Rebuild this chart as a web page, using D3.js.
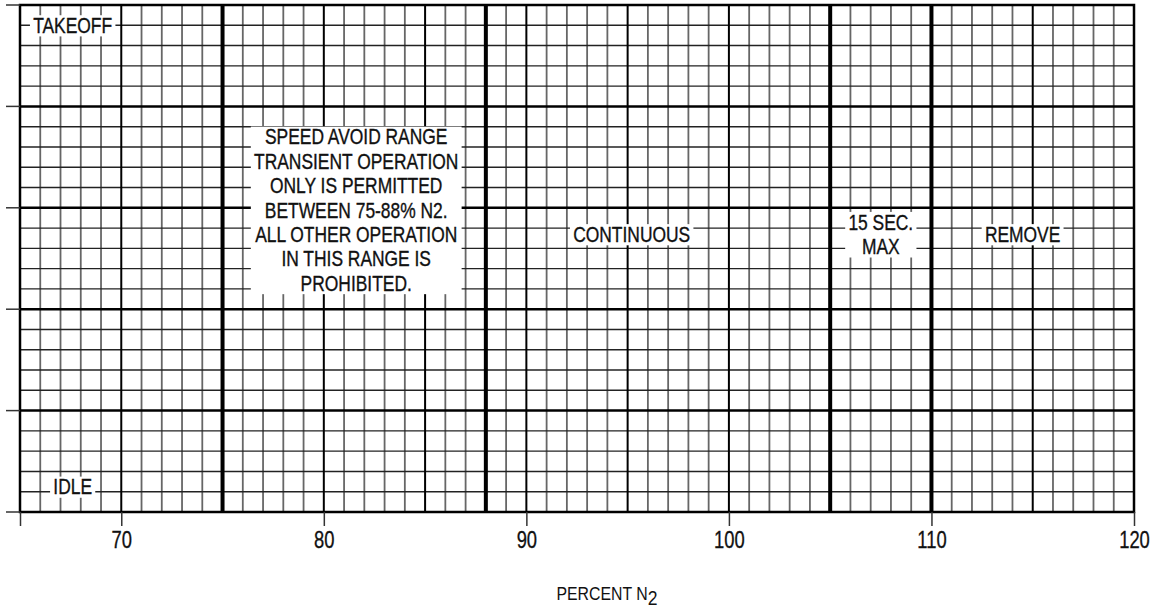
<!DOCTYPE html>
<html>
<head>
<meta charset="utf-8">
<script src="https://cdn.jsdelivr.net/npm/d3@7"></script>
<style>
  html, body { margin: 0; padding: 0; background: #fff; }
  svg text { font-family: "Liberation Sans", Arial, sans-serif; fill: #111; }
</style>
</head>
<body>
<svg id="chart" width="1154" height="616"></svg>
<script>
// ---- data ----
const xDomain = [65, 120];
const yDomain = [0, 5];
const xTickValues = [65, 70, 80, 90, 100, 110, 120];
const xTickLabels = ["", "70", "80", "90", "100", "110", "120"];
const yMajorTicks = [0, 1, 2, 3, 4, 5];
const xThickLines = [75, 88, 105, 110];          // limit boundaries
const xMediumLines = [70, 80, 85, 90, 95, 100, 115];
const xLabel = "PERCENT N";
const xLabelSub = "2";

const annotations = [
  { x: 67.6, y: 4.8, lines: ["TAKEOFF"] },
  { x: 67.6, y: 0.25, lines: ["IDLE"] },
  { x: 81.6, y: 2.98, lines: ["SPEED AVOID RANGE", "TRANSIENT OPERATION", "ONLY IS PERMITTED", "BETWEEN 75-88% N2.", "ALL OTHER OPERATION", "IN THIS RANGE IS", "PROHIBITED."] },
  { x: 95.2, y: 2.74, lines: ["CONTINUOUS"] },
  { x: 107.5, y: 2.74, lines: ["15 SEC.", "MAX"] },
  { x: 114.5, y: 2.74, lines: ["REMOVE"] }
];

// ---- layout ----
const svg = d3.select("#chart");
const mLeft = 20, mRight = 1134, mTop = 5, mBottom = 512;
const x = d3.scaleLinear().domain(xDomain).range([mLeft, mRight]);
const y = d3.scaleLinear().domain(yDomain).range([mBottom, mTop]);
const condense = 0.81;

const grid = svg.append("g");

// minor vertical lines (every 1 unit)
const minorX = d3.range(xDomain[0] + 1, xDomain[1], 1)
  .filter(v => !xThickLines.includes(v) && !xMediumLines.includes(v));
grid.selectAll(".vminor").data(minorX).join("line")
  .attr("x1", d => x(d)).attr("x2", d => x(d))
  .attr("y1", mTop).attr("y2", mBottom)
  .attr("stroke", "#666").attr("stroke-width", 1.8);

// minor horizontal lines (every 0.2 unit)
const minorY = d3.range(1, 25).map(i => i / 5).filter(v => Math.abs(v - Math.round(v)) > 1e-6);
grid.selectAll(".hminor").data(minorY).join("line")
  .attr("x1", mLeft).attr("x2", mRight)
  .attr("y1", d => y(d)).attr("y2", d => y(d))
  .attr("stroke", "#222").attr("stroke-width", 1.4);

// medium vertical lines
grid.selectAll(".vmed").data(xMediumLines).join("line")
  .attr("x1", d => x(d)).attr("x2", d => x(d))
  .attr("y1", mTop).attr("y2", mBottom)
  .attr("stroke", "#000").attr("stroke-width", 2);

// major horizontal lines
grid.selectAll(".hmajor").data(yMajorTicks.slice(1, -1)).join("line")
  .attr("x1", mLeft).attr("x2", mRight)
  .attr("y1", d => y(d)).attr("y2", d => y(d))
  .attr("stroke", "#000").attr("stroke-width", 2.5);

// thick vertical lines
grid.selectAll(".vthick").data(xThickLines).join("line")
  .attr("x1", d => x(d)).attr("x2", d => x(d))
  .attr("y1", mTop).attr("y2", mBottom)
  .attr("stroke", "#000").attr("stroke-width", 4);

// frame
grid.append("rect")
  .attr("x", mLeft).attr("y", mTop)
  .attr("width", mRight - mLeft).attr("height", mBottom - mTop)
  .attr("fill", "none").attr("stroke", "#000").attr("stroke-width", 2.5);

// left ticks
svg.append("g").selectAll("line").data(yMajorTicks).join("line")
  .attr("x1", 6).attr("x2", mLeft)
  .attr("y1", d => y(d)).attr("y2", d => y(d))
  .attr("stroke", "#333").attr("stroke-width", 1.5);

// bottom axis
const xAxis = d3.axisBottom(x)
  .tickValues(xTickValues)
  .tickFormat((d, i) => xTickLabels[i])
  .tickSize(14).tickPadding(6);
const ax = svg.append("g").attr("transform", `translate(0,${mBottom})`).call(xAxis);
ax.select(".domain").remove();
ax.selectAll(".tick line").attr("stroke", "#333").attr("stroke-width", 1.5);
ax.selectAll(".tick text")
  .attr("font-size", 23)
  .attr("transform", `scale(0.8,1)`)
  .style("font-family", '"Liberation Sans", Arial, sans-serif')
  .attr("fill", "#111")
  .attr("stroke", "#111").attr("stroke-width", 0.3);

// annotations with white background boxes
const lineH = 24.4;
const fs = 21.5;
annotations.forEach(a => {
  const cx = x(a.x), cy = y(a.y);
  const g = svg.append("g")
    .attr("transform", `translate(${cx},0) scale(${condense},1) translate(${-cx},0)`);
  const n = a.lines.length;
  const t = g.append("text")
    .attr("text-anchor", "middle")
    .attr("font-size", fs)
    .attr("stroke", "#111").attr("stroke-width", 0.35);
  a.lines.forEach((l, i) => {
    t.append("tspan")
      .attr("x", cx)
      .attr("y", cy + (i - (n - 1) / 2) * lineH)
      .attr("dy", "0.36em")
      .text(l);
  });
  const bb = t.node().getBBox();
  g.insert("rect", "text")
    .attr("x", bb.x - 4).attr("y", bb.y + 2)
    .attr("width", bb.width + 8).attr("height", bb.height - 3)
    .attr("fill", "#fff");
});

// x axis title
const tx = 607;
const title = svg.append("text")
  .attr("x", tx).attr("y", 600)
  .attr("text-anchor", "middle")
  .attr("font-size", 18)
  .attr("transform", `translate(${tx},0) scale(0.88,1) translate(${-tx},0)`);
title.append("tspan").text(xLabel);
title.append("tspan").attr("dy", 5).attr("font-size", 20).text(xLabelSub);
</script>
</body>
</html>
